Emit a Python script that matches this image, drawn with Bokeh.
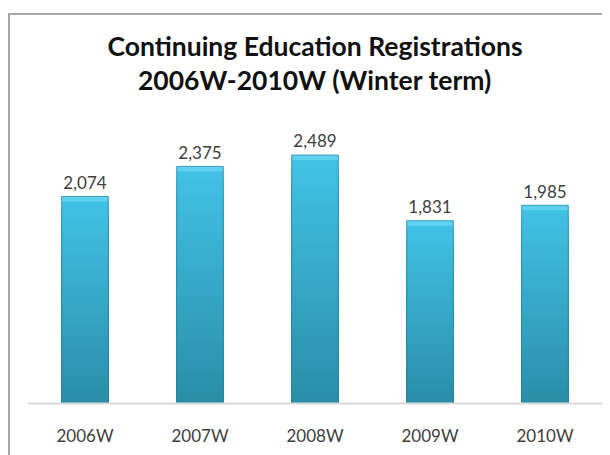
from bokeh.plotting import figure
from bokeh.models import ColumnDataSource, Range1d, FactorRange
from bokeh.core.properties import value
from bokeh.embed import file_html
from bokeh.resources import INLINE

# ---- data ----
terms = ["2006W", "2007W", "2008W", "2009W", "2010W"]
registrations = [2074, 2375, 2489, 1831, 1985]
value_labels = ["2,074", "2,375", "2,489", "1,831", "1,985"]
title_lines = ["Continuing Education Registrations", "2006W-2010W (Winter term)"]

W, H = 602, 455
MB_TOP, MB_BOTTOM, MB_LEFT, MB_RIGHT = 14, 52, 27, 0
units_per_px = 10.016
frame_h = H - MB_TOP - MB_BOTTOM
y_end = frame_h * units_per_px

p = figure(width=W, height=H, x_range=FactorRange(*terms, range_padding=0),
           y_range=Range1d(0, y_end), output_backend="svg", toolbar_location=None,
           min_border_top=MB_TOP, min_border_bottom=MB_BOTTOM,
           min_border_left=MB_LEFT, min_border_right=MB_RIGHT)
# chart-area frame line (left and top edges visible in the crop)
grey = "#a6a6a6"
p.styles = {
    "background": (f"linear-gradient({grey},{grey}) 8px 13px / 2px 100% no-repeat, "
                   f"linear-gradient({grey},{grey}) 8px 13px / 100% 2px no-repeat, white")
}
p.outline_line_color = None
p.background_fill_alpha = 0
p.border_fill_alpha = 0
p.xgrid.visible = False
p.ygrid.visible = False
p.yaxis.visible = False

def lerp(c1, c2, t):
    a = [int(c1[i:i + 2], 16) for i in (1, 3, 5)]
    b = [int(c2[i:i + 2], 16) for i in (1, 3, 5)]
    return "#%02x%02x%02x" % tuple(round(a[k] + (b[k] - a[k]) * t) for k in range(3))

top_c, bot_c = "#42c2e6", "#2a8ea8"
n = 40
bar_w = 0.405
for i in range(n):
    frac = 1 - i / n
    src = ColumnDataSource(dict(x=terms, top=[v * frac for v in registrations]))
    p.vbar(x="x", top="top", bottom=0, width=bar_w, source=src,
           fill_color=lerp(top_c, bot_c, i / (n - 1)), line_color=None)

bevel = 5 * units_per_px
src_b = ColumnDataSource(dict(x=terms, top=registrations,
                              bottom=[v - bevel for v in registrations]))
p.vbar(x="x", top="top", bottom="bottom", width=bar_w, source=src_b,
       fill_color="#5fd2f2", line_color=None)
src_o = ColumnDataSource(dict(x=terms, top=registrations))
p.vbar(x="x", top="top", bottom=0, width=bar_w, source=src_o,
       fill_alpha=0, line_color="#23809a", line_alpha=0.7, line_width=1)

src_l = ColumnDataSource(dict(x=terms, y=registrations, t=value_labels))
p.text(x="x", y="y", text="t", source=src_l, text_align="center",
       text_baseline="alphabetic", y_offset=-14,
       text_font=value("Lato"), text_font_size="17px", text_color="#404040")

# two-line chart title, centred over the categories, hung from the top of the area
mid = terms[len(terms) // 2]
src_t = ColumnDataSource(dict(x=[mid, mid], y=[y_end, y_end], t=title_lines,
                              dy=[31, 65]))
p.text(x="x", y="y", text="t", y_offset="dy", source=src_t,
       text_align="center", text_baseline="alphabetic",
       text_font=value("Lato"), text_font_size="26.5px", text_font_style="bold",
       text_color="#111111")

ax = p.xaxis[0]
ax.axis_line_color = "#d9d9d9"
ax.axis_line_width = 2
ax.major_tick_line_color = None
ax.minor_tick_line_color = None
ax.major_label_standoff = 15
ax.major_label_text_font = "Lato"
ax.major_label_text_font_size = "17px"
ax.major_label_text_color = "#404040"

open("out.html", "w").write(file_html(p, INLINE))
